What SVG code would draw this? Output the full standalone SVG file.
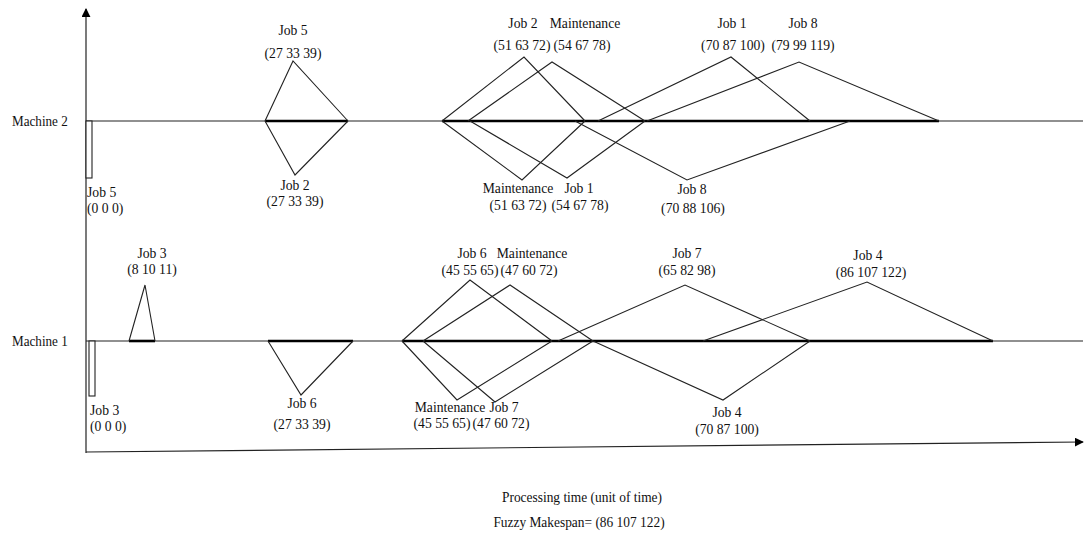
<svg xmlns="http://www.w3.org/2000/svg" width="1084" height="537" viewBox="0 0 1084 537">
<defs>
<marker id="ah" viewBox="0 0 10 10" refX="9" refY="5" markerWidth="9" markerHeight="9" markerUnits="userSpaceOnUse" orient="auto"><path d="M0,0 L10,5 L0,10 z" fill="#000"/></marker>
</defs>
<style>
text{font-family:"Liberation Serif","Times New Roman",serif;font-size:15.2px;fill:#111}
.c{text-anchor:middle}
.m{font-size:14.6px}
.b{font-size:14.9px}
.t{fill:none;stroke:#222;stroke-width:1.1;stroke-linejoin:miter}
.ax{fill:none;stroke:#222;stroke-width:1.2}
.bold{stroke:#000;stroke-width:2.6}
.r{fill:#fff;stroke:#222;stroke-width:1.1}
</style>
<rect width="1084" height="537" fill="#fff"/>
<g id="axes">
<line class="ax" x1="86" y1="453" x2="86" y2="9" marker-end="url(#ah)"/>
<line class="ax" x1="86" y1="452" x2="1083" y2="442" marker-end="url(#ah)"/>
<line class="ax" x1="86" y1="121" x2="1083" y2="121"/>
<line class="ax" x1="86" y1="341" x2="1083" y2="341"/>
</g>
<g id="connectors">
<line class="bold" x1="265" y1="121" x2="348" y2="121"/>
<line class="bold" x1="442" y1="121" x2="939" y2="121"/>
<line class="bold" x1="129" y1="341" x2="155" y2="341"/>
<line class="bold" x1="268" y1="341" x2="353" y2="341"/>
<line class="bold" x1="402" y1="341" x2="993" y2="341"/>
</g>
<g id="m2-job5-start"><rect class="r" x="86" y="121" width="6" height="57"/></g>
<g id="m2-job5"><polyline class="t" points="265,121 293,61 348,121"/></g>
<g id="m2-job2-low"><polyline class="t" points="265,121 295,175 348,121"/></g>
<g id="m2-job2"><polyline class="t" points="442,121 524,57 585,121"/></g>
<g id="m2-maint"><polyline class="t" points="468,121 552,62 645,121"/></g>
<g id="m2-maint-low"><polyline class="t" points="442,121 522,180 585,121"/></g>
<g id="m2-job1-low"><polyline class="t" points="470,121 567,178 645,121"/></g>
<g id="m2-job1"><polyline class="t" points="598,121 731,57 810,121"/></g>
<g id="m2-job8"><polyline class="t" points="647,121 799,62 939,121"/></g>
<g id="m2-job8-low"><polyline class="t" points="575,121 687,180 850,121"/></g>
<g id="m1-job3-start"><rect class="r" x="89" y="341" width="6" height="55"/></g>
<g id="m1-job3"><polyline class="t" points="129,341 145,285 155,341"/></g>
<g id="m1-job6-low"><polyline class="t" points="268,341 301,395 353,341"/></g>
<g id="m1-job6"><polyline class="t" points="402,341 470,280 552,341"/></g>
<g id="m1-maint"><polyline class="t" points="423,341 510,285 593,341"/></g>
<g id="m1-maint-low"><polyline class="t" points="402,341 457,400 552,341"/></g>
<g id="m1-job7-low"><polyline class="t" points="423,341 495,402 593,341"/></g>
<g id="m1-job7"><polyline class="t" points="558,341 685,285 810,341"/></g>
<g id="m1-job4-low"><polyline class="t" points="593,341 723,400 810,341"/></g>
<g id="m1-job4"><polyline class="t" points="703,341 867,282 993,341"/></g>
<g id="labels" transform="scale(0.9 1)">
<text class="m" x="13.33" y="126">Machine 2</text>
<text class="m" x="13.33" y="346">Machine 1</text>
<text class="c b" x="646.67" y="502">Processing time (unit of time)</text>
<text class="c b" x="643.33" y="527">Fuzzy Makespan= (86 107 122)</text>
<text x="96.67" y="197">Job 5</text><text x="96.67" y="213">(0 0 0)</text>
<text class="c" x="325.56" y="35">Job 5</text><text class="c" x="325.56" y="58">(27 33 39)</text>
<text class="c" x="327.78" y="190">Job 2</text><text class="c" x="327.78" y="206">(27 33 39)</text>
<text class="c" x="581.11" y="28">Job 2</text><text class="c" x="580" y="50">(51 63 72)</text>
<text class="c" x="650" y="28">Maintenance</text><text class="c" x="646.67" y="50">(54 67 78)</text>
<text class="c" x="575.56" y="193">Maintenance</text><text class="c" x="575.56" y="210">(51 63 72)</text>
<text class="c" x="643.33" y="193">Job 1</text><text class="c" x="644.44" y="210">(54 67 78)</text>
<text class="c" x="813.33" y="28">Job 1</text><text class="c" x="814.44" y="50">(70 87 100)</text>
<text class="c" x="892.22" y="28">Job 8</text><text class="c" x="892.22" y="50">(79 99 119)</text>
<text class="c" x="768.89" y="194">Job 8</text><text class="c" x="770" y="213">(70 88 106)</text>
<text x="100" y="415">Job 3</text><text x="100" y="431">(0 0 0)</text>
<text class="c" x="168.89" y="258">Job 3</text><text class="c" x="168.89" y="274">(8 10 11)</text>
<text class="c" x="335.56" y="408">Job 6</text><text class="c" x="335.56" y="429">(27 33 39)</text>
<text class="c" x="524.44" y="258">Job 6</text><text class="c" x="522.22" y="275">(45 55 65)</text>
<text class="c" x="591.11" y="258">Maintenance</text><text class="c" x="587.78" y="275">(47 60 72)</text>
<text class="c" x="500" y="412">Maintenance</text><text class="c" x="491.11" y="428">(45 55 65)</text>
<text class="c" x="560" y="412">Job 7</text><text class="c" x="556.67" y="428">(47 60 72)</text>
<text class="c" x="763.33" y="258">Job 7</text><text class="c" x="763.33" y="275">(65 82 98)</text>
<text class="c" x="807.78" y="417">Job 4</text><text class="c" x="807.78" y="434">(70 87 100)</text>
<text class="c" x="964.44" y="260">Job 4</text><text class="c" x="967.78" y="277">(86 107 122)</text>
</g>
</svg>
